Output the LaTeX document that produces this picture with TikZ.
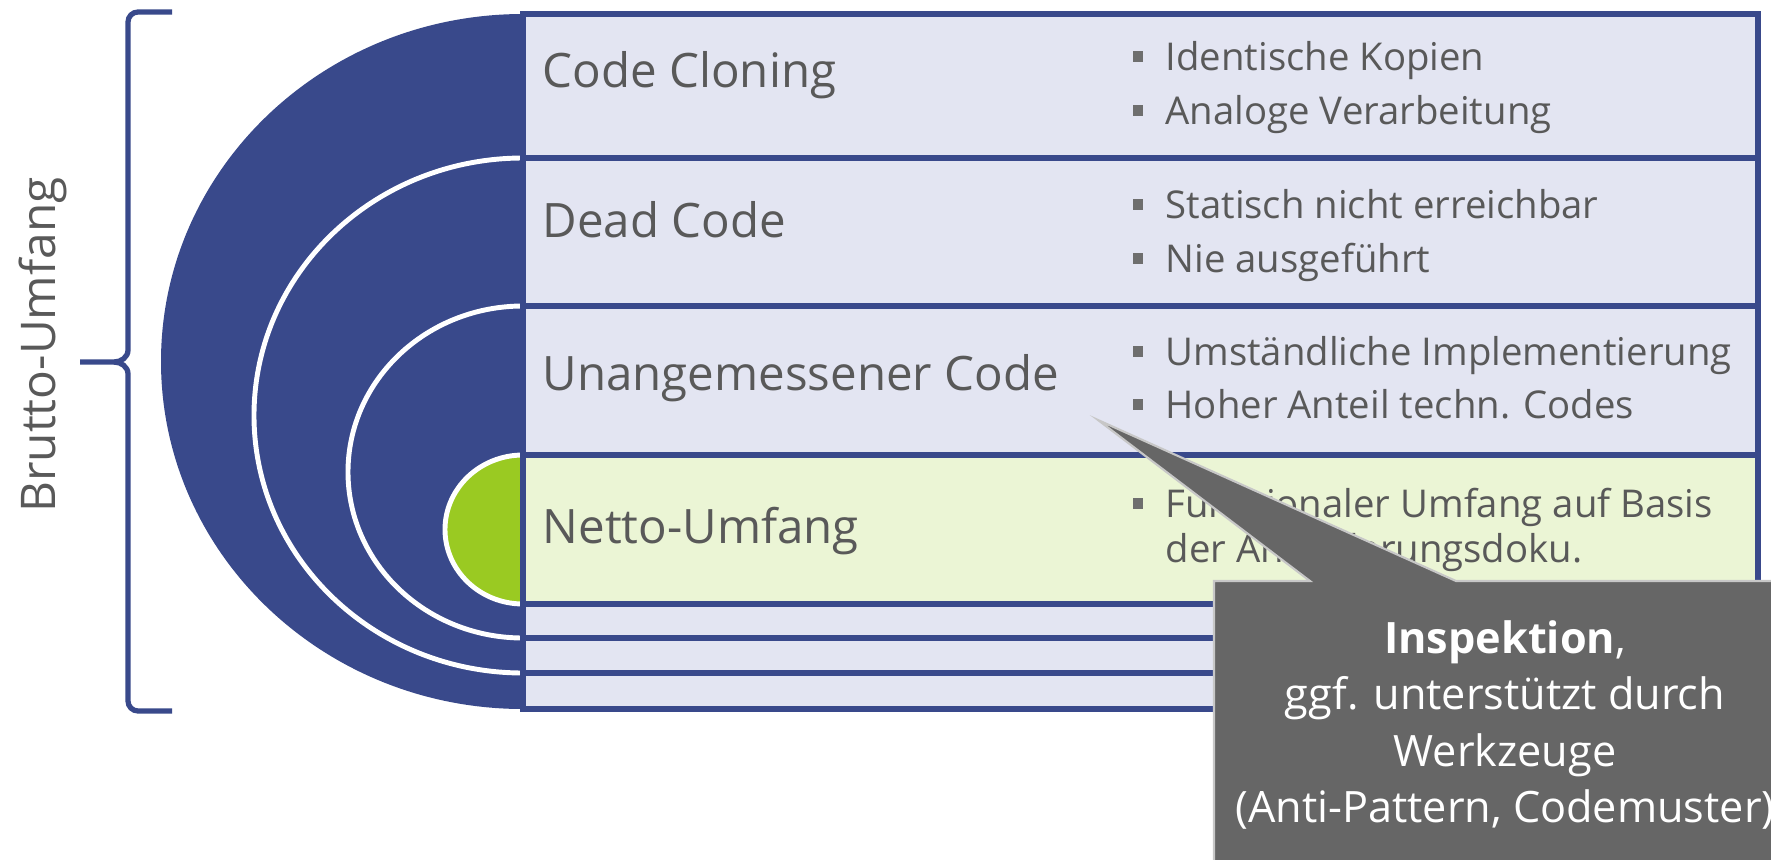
\documentclass[tikz,border=0pt]{standalone}
\usepackage{fontspec}
\setmainfont{Open Sans}
\usetikzlibrary{positioning,calc}
\definecolor{navy}{RGB}{57,73,139}
\definecolor{lav}{RGB}{227,229,242}
\definecolor{lime}{RGB}{235,245,213}
\definecolor{leaf}{RGB}{154,202,34}
\definecolor{txt}{RGB}{89,89,89}
\definecolor{bulgray}{RGB}{110,110,110}
\definecolor{callgray}{RGB}{102,102,102}
\newcommand{\bul}{\makebox[0.86em][l]{\textcolor{bulgray}{\rule[0.22em]{0.27em}{0.27em}}}}
\tikzset{
  row/.style={draw=navy,fill=lav,line width=1.6pt,rectangle,minimum width=12.35cm,inner sep=0},
  ringline/.style={white,line width=1.4pt},
  ttl/.style={font=\fontsize{13.5}{16}\selectfont,text=txt,anchor=base west,inner sep=0},
  itm/.style={font=\fontsize{10.9}{13}\selectfont,text=txt,anchor=base west,inner sep=0},
  brk/.style={navy,line width=1.5pt},
  callout/.style={fill=callgray,draw=black!22,line width=0.6pt},
}

\begin{document}
\begin{tikzpicture}[x=1cm,y=1cm]
\useasboundingbox (0,0) rectangle (17.71,8.59);
% brace + label
\draw[brk] (1.72,8.47) -- (1.38,8.47) to[out=180,in=90] (1.28,8.37) -- (1.28,5.09)
  to[out=270,in=0] (1.14,4.97) -- (0.80,4.97);
\draw[brk] (1.14,4.97) to[out=0,in=90] (1.28,4.85) -- (1.28,1.58)
  to[out=270,in=180] (1.38,1.48) -- (1.72,1.48);
\node[font=\fontsize{13.6}{16}\selectfont,text=txt,rotate=90,anchor=base,inner sep=0] (brutto) at (0.55,5.14) {Brutto-Umfang};
% nested half discs
\fill[navy] (5.23,8.45) arc[start angle=90,end angle=270,x radius=3.62,y radius=3.475] -- cycle;
\fill[navy] (5.23,7.01) arc[start angle=90,end angle=270,x radius=2.69,y radius=2.575] -- cycle;
\draw[ringline] (5.23,7.01) arc[start angle=90,end angle=270,x radius=2.69,y radius=2.575];
\fill[navy] (5.23,5.53) arc[start angle=90,end angle=270,x radius=1.75,y radius=1.66] -- cycle;
\draw[ringline] (5.23,5.53) arc[start angle=90,end angle=270,x radius=1.75,y radius=1.66];
\fill[leaf] (5.23,4.04) arc[start angle=90,end angle=270,x radius=0.78,y radius=0.745] -- cycle;
\draw[ringline] (5.23,4.04) arc[start angle=90,end angle=270,x radius=0.78,y radius=0.745];
% rows
\node[row,minimum height=1.44cm] (r1) at (11.405,7.73) {};
\node[row,minimum height=1.48cm] (r2) at (11.405,6.27) {};
\node[row,minimum height=1.49cm] (r3) at (11.405,4.785) {};
\node[row,minimum height=1.49cm,fill=lime] (r4) at (11.405,3.295) {};
\node[row,minimum height=0.34cm] (r5) at (11.405,2.38) {};
\node[row,minimum height=0.35cm] (r6) at (11.405,2.035) {};
\node[row,minimum height=0.36cm] (r7) at (11.405,1.68) {};
% row titles
\node[ttl] (clone) at (5.42,7.72) {Code Cloning};
\node[ttl] (dead) at (5.42,6.22) {Dead Code};
\node[ttl] (unang) at (5.42,4.69) {Unangemessener Code};
\node[ttl] (netto) at (5.42,3.16) {Netto-Umfang};
% bullet points
\node[itm] (b1) at (11.32,7.89) {\bul Identische Kopien};
\node[itm] (b2) at (11.32,7.35) {\bul Analoge Verarbeitung};
\node[itm] (b3) at (11.32,6.41) {\bul Statisch nicht erreichbar};
\node[itm] (b4) at (11.32,5.87) {\bul Nie ausgeführt};
\node[itm] (b5) at (11.32,4.94) {\bul Umständliche Implementierung};
\node[itm] (b6) at (11.32,4.41) {\bul Hoher Anteil techn. Codes};
\node[itm] (b7) at (11.32,3.42) {\bul Funktionaler Umfang auf Basis};
\node[itm] (b7b) at (11.65,2.97) {der Anforderungsdoku.};
% callout
\coordinate (tip) at (10.98,4.39);
\draw[callout] (12.14,-0.1) -- (12.14,2.78) -- (13.10,2.78) -- (tip) -- (14.56,2.78)
  -- (17.9,2.78) -- (17.9,-0.1) -- cycle;
\node[font=\fontsize{12.3}{16}\selectfont,text=white,align=center,inner sep=0] (insp) at (15.05,1.34)
  {\textbf{Inspektion},\\ggf. unterstützt durch\\Werkzeuge\\(Anti-Pattern, Codemuster)};
\end{tikzpicture}
\end{document}
